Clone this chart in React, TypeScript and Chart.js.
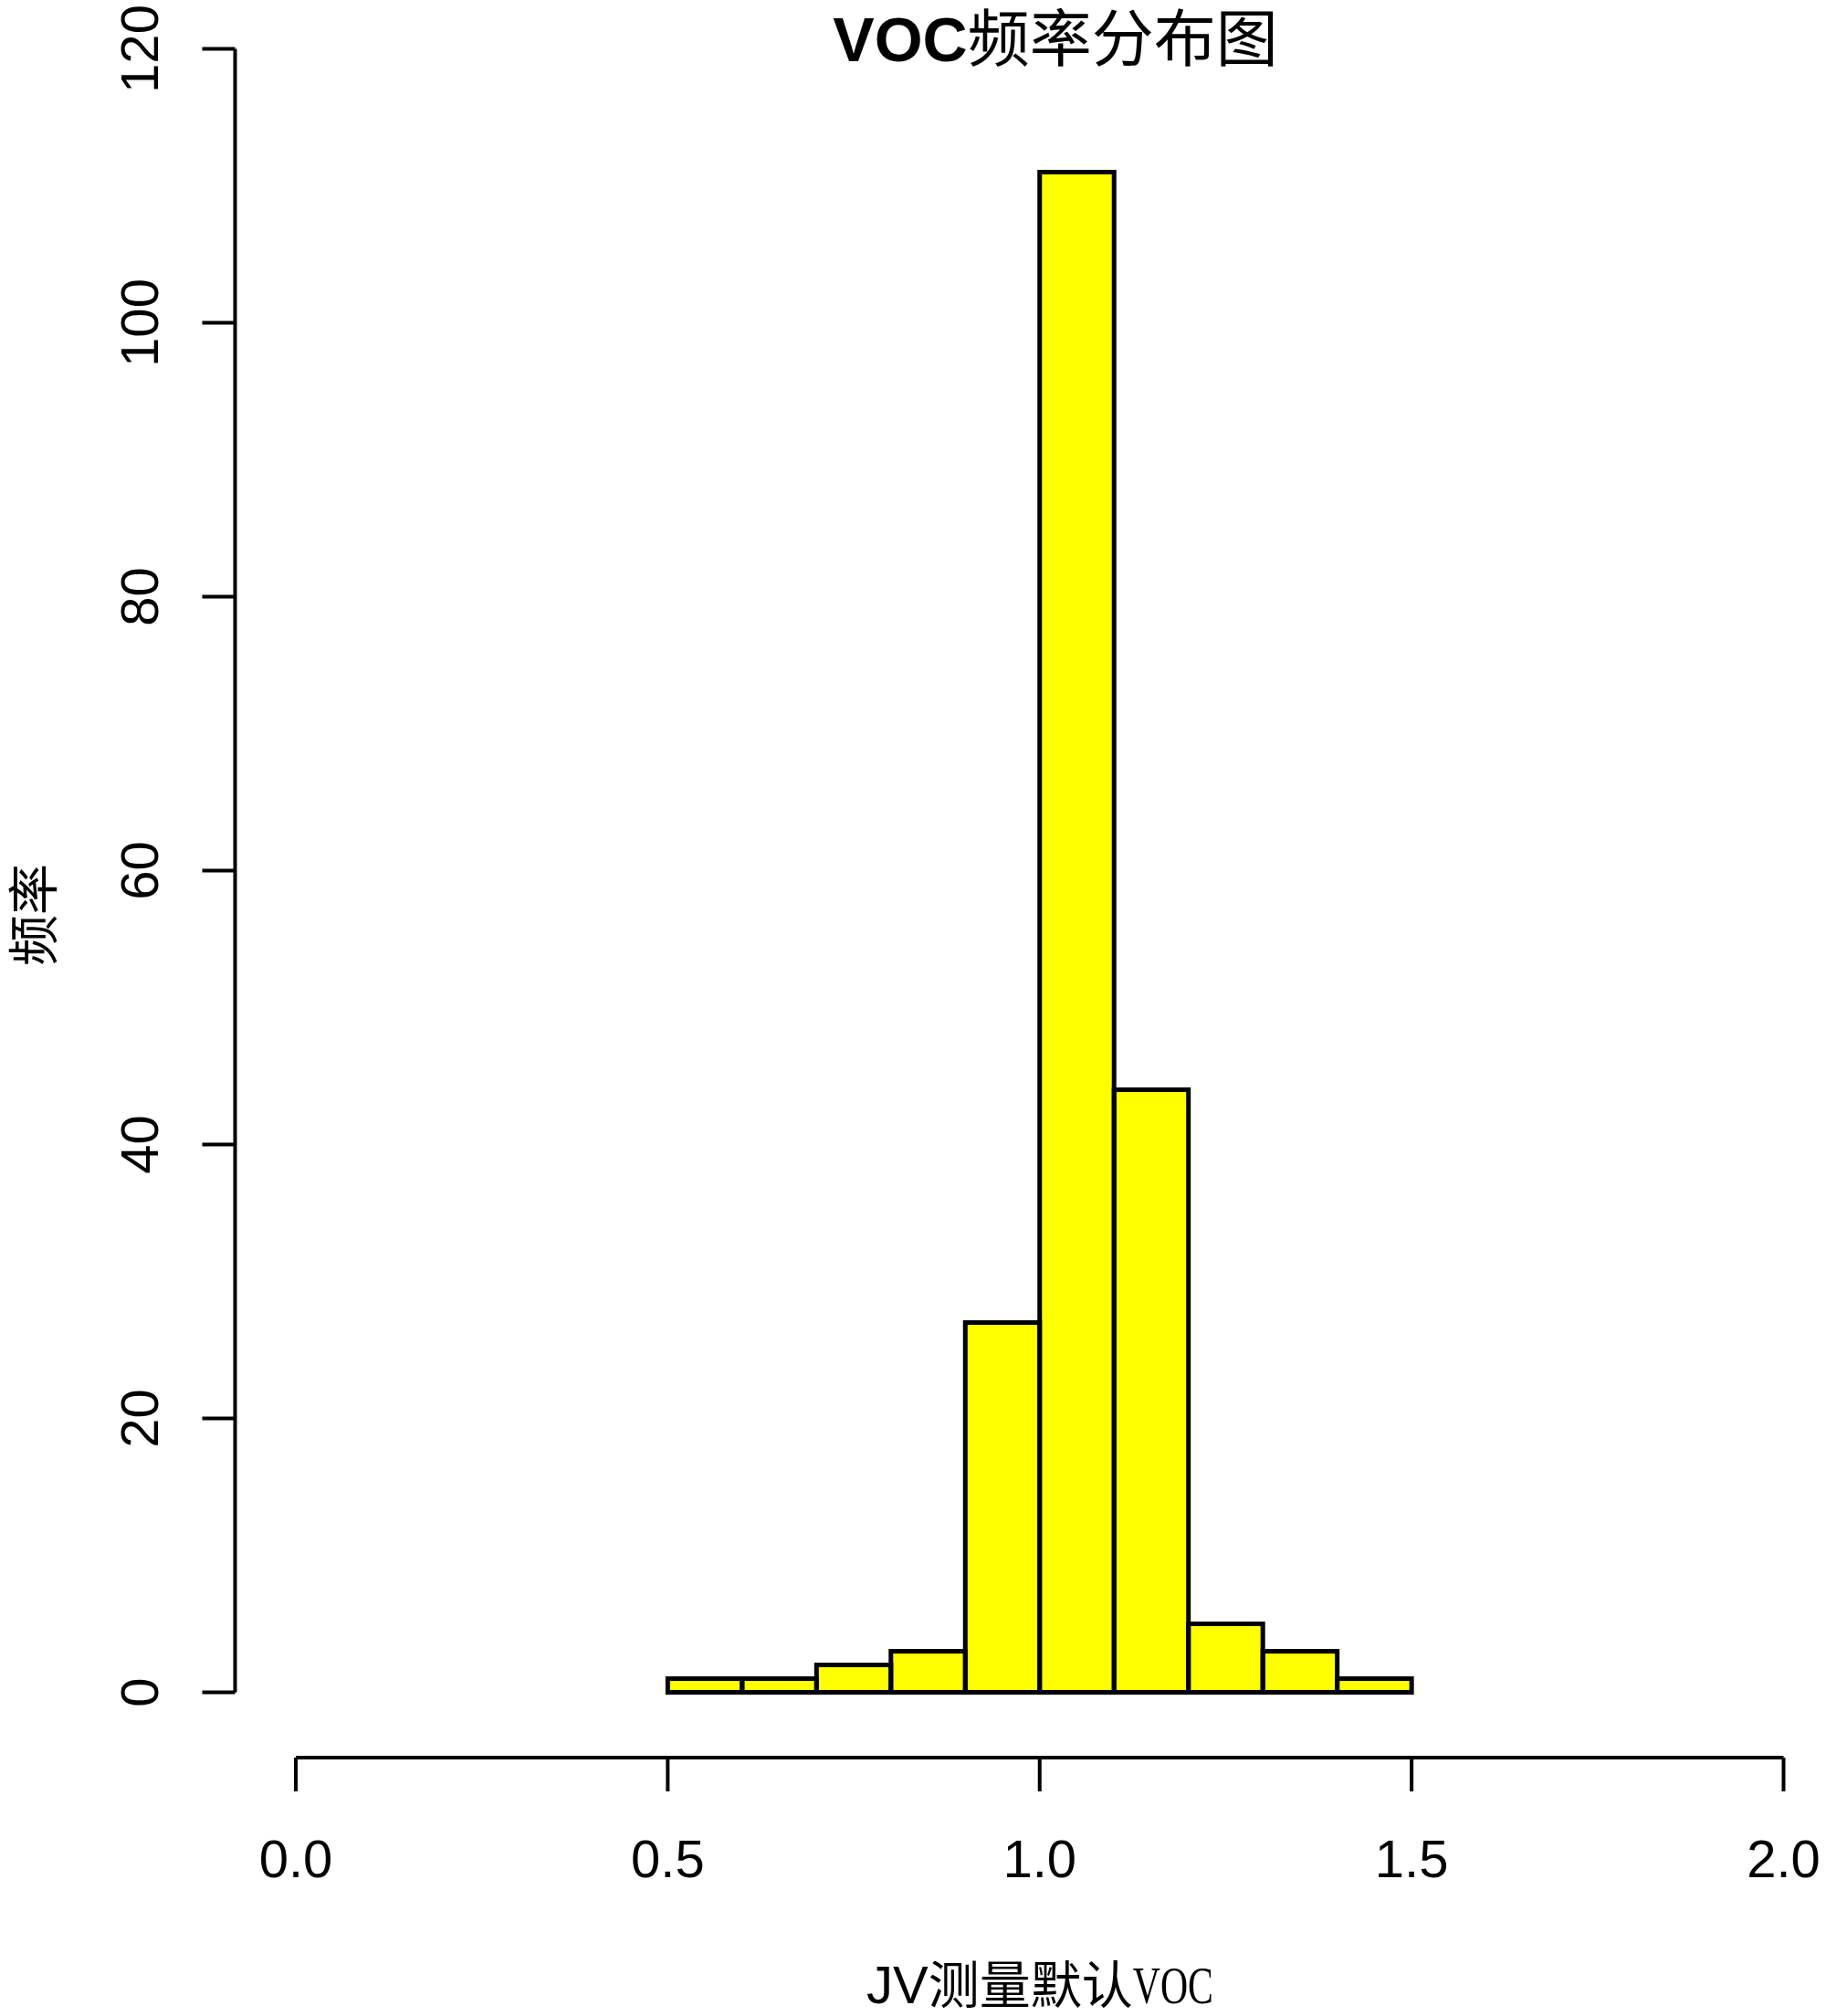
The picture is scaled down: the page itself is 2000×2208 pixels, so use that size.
import React, { useEffect, useRef } from "react";
import { Chart, registerables } from "chart.js";

Chart.register(...registerables);

// ---- data ----
const binStarts = [0.5, 0.6, 0.7, 0.8, 0.9, 1.0, 1.1, 1.2, 1.3, 1.4];
const binWidth = 0.1;
const counts = [1, 1, 2, 3, 27, 111, 44, 5, 3, 1];
const xTicks = [0, 0.5, 1.0, 1.5, 2.0];
const xTickLabels = ["0.0", "0.5", "1.0", "1.5", "2.0"];
const yTicks = [0, 20, 40, 60, 80, 100, 120];
const yTickLabels = ["0", "20", "40", "60", "80", "100", "120"];
const titleLatin = "VOC";
const titleCjk = "频率分布图";
const xLabelParts = ["JV", "测量默认", "VOC"];
const yLabel = "频率";

const SANS = '"Liberation Sans", Arial, sans-serif';
const CJK = '"Noto Sans CJK SC", sans-serif';
const SERIF = '"Liberation Serif", serif';

const axesPlugin = {
  id: "rAxes",
  afterDatasetsDraw(chart: any) {
    const ctx = chart.ctx;
    const meta = chart.getDatasetMeta(0);
    ctx.save();
    ctx.strokeStyle = "#000";
    ctx.lineWidth = 5;
    ctx.lineJoin = "miter";
    meta.data.forEach((el: any) => {
      const p = el.getProps(["x", "y", "base", "width"], true);
      ctx.strokeRect(p.x - p.width / 2, p.y, p.width, p.base - p.y);
    });
    ctx.restore();
  },
  afterDraw(chart: any) {
    const ctx = chart.ctx;
    const xs = chart.scales.x;
    const ys = chart.scales.y;
    ctx.save();
    ctx.strokeStyle = "#000";
    ctx.fillStyle = "#000";
    ctx.lineWidth = 4;
    ctx.lineCap = "butt";

    // y axis
    const yAxisX = xs.left - 66.5;
    const tickLen = 36;
    ctx.beginPath();
    ctx.moveTo(yAxisX, ys.getPixelForValue(yTicks[0]));
    ctx.lineTo(yAxisX, ys.getPixelForValue(yTicks[yTicks.length - 1]));
    yTicks.forEach((v) => {
      const py = ys.getPixelForValue(v);
      ctx.moveTo(yAxisX, py);
      ctx.lineTo(yAxisX - tickLen, py);
    });
    ctx.stroke();
    ctx.font = `58px ${SANS}`;
    ctx.textAlign = "center";
    ctx.textBaseline = "alphabetic";
    yTicks.forEach((v, i) => {
      const py = ys.getPixelForValue(v);
      ctx.save();
      ctx.translate(173, py);
      ctx.rotate(-Math.PI / 2);
      ctx.fillText(yTickLabels[i], 0, 0);
      ctx.restore();
    });

    // x axis
    const xAxisY = ys.bottom + 71.5;
    ctx.beginPath();
    ctx.moveTo(xs.getPixelForValue(xTicks[0]), xAxisY);
    ctx.lineTo(xs.getPixelForValue(xTicks[xTicks.length - 1]), xAxisY);
    xTicks.forEach((v) => {
      const px = xs.getPixelForValue(v);
      ctx.moveTo(px, xAxisY);
      ctx.lineTo(px, xAxisY + 37);
    });
    ctx.stroke();
    ctx.font = `58px ${SANS}`;
    ctx.textAlign = "center";
    ctx.textBaseline = "alphabetic";
    xTicks.forEach((v, i) => {
      ctx.fillText(xTickLabels[i], xs.getPixelForValue(v), 2056);
    });

    // title
    const tFontL = `bold 68px ${SANS}`;
    const tFontC = `68px ${CJK}`;
    ctx.font = tFontL;
    const wL = ctx.measureText(titleLatin).width;
    ctx.font = tFontC;
    const wC = ctx.measureText(titleCjk).width;
    const tCenter = 1156;
    const tx = tCenter - (wL + wC) / 2;
    ctx.textAlign = "left";
    ctx.font = tFontL;
    ctx.fillText(titleLatin, tx, 67);
    ctx.font = tFontC;
    ctx.fillText(titleCjk, tx + wL, 67);

    // x label
    const fonts = [`58px ${SANS}`, `56px ${CJK}`, `58px ${SERIF}`];
    const scaleX = [1, 1, 0.72];
    const widths = xLabelParts.map((s, i) => {
      ctx.font = fonts[i];
      return ctx.measureText(s).width * scaleX[i];
    });
    const total = widths.reduce((a, b) => a + b, 0);
    let lx = 1139 - total / 2;
    xLabelParts.forEach((s, i) => {
      ctx.font = fonts[i];
      ctx.save();
      ctx.translate(lx, 2194);
      ctx.scale(scaleX[i], 1);
      ctx.fillText(s, 0, 0);
      ctx.restore();
      lx += widths[i];
    });

    // y label
    ctx.font = `56px ${CJK}`;
    ctx.textAlign = "center";
    ctx.textBaseline = "middle";
    ctx.save();
    ctx.translate(36, 1002);
    ctx.rotate(-Math.PI / 2);
    ctx.fillText(yLabel, 0, 0);
    ctx.restore();

    ctx.restore();
  },
};

export default function App() {
  const ref = useRef<HTMLCanvasElement | null>(null);
  useEffect(() => {
    if (!ref.current) return;
    const chart = new Chart(ref.current, {
      type: "bar",
      data: {
        datasets: [
          {
            data: binStarts.map((s, i) => ({ x: s + binWidth / 2, y: counts[i] })),
            backgroundColor: "#ffff00",
            borderWidth: 0,
            barPercentage: 1,
            categoryPercentage: 1,
          },
        ],
      },
      options: {
        responsive: false,
        devicePixelRatio: 1,
        animation: false,
        layout: { padding: { left: 324, right: 46.5, top: 53.5, bottom: 354.5 } },
        scales: {
          x: { type: "linear", min: 0, max: 2, display: false, offset: false },
          y: { type: "linear", min: 0, max: 120, display: false },
        },
        plugins: {
          legend: { display: false },
          tooltip: { enabled: false },
          title: { display: false },
        },
      },
      plugins: [axesPlugin],
    } as any);
    return () => chart.destroy();
  }, []);
  return (
    <div style={{ position: "absolute", left: 0, top: 0, width: 2000, height: 2208, background: "#fff" }}>
      <canvas ref={ref} width={2000} height={2208} style={{ width: 2000, height: 2208, display: "block" }} />
    </div>
  );
}
